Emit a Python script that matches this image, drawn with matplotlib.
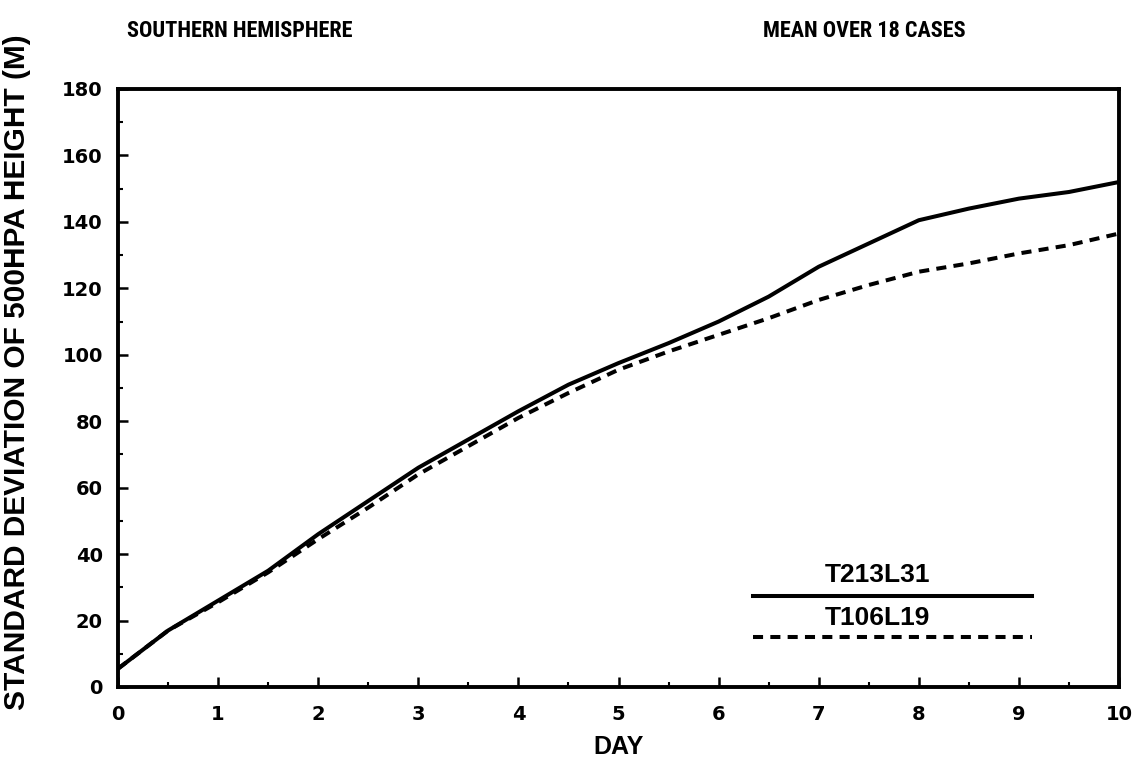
import matplotlib
matplotlib.use("Agg")
import matplotlib.pyplot as plt
from matplotlib import font_manager
from matplotlib.ticker import MultipleLocator

# Forecast day and standard deviation of 500 hPa height (m)
days = [0, 0.5, 1, 1.5, 2, 2.5, 3, 3.5, 4, 4.5, 5, 5.5, 6, 6.5, 7, 7.5, 8, 8.5, 9, 9.5, 10]
t213l31 = [5.5, 17, 26, 35, 46, 56, 66, 74.5, 83, 91, 97.5, 103.5, 110, 117.5, 126.5, 133.5, 140.5, 144, 147, 149, 152]
t106l19 = [5.5, 17, 25.5, 34.5, 44.5, 54, 64, 72.5, 81, 88.5, 95.5, 101, 106, 111, 116.5, 121, 125, 127.5, 130.5, 133, 136.5]

series_names = ["T213L31", "T106L19"]
title_left = "SOUTHERN HEMISPHERE"
title_right = "MEAN OVER 18 CASES"
x_label = "DAY"
y_label = "STANDARD DEVIATION OF 500HPA HEIGHT (M)"

# prefer a condensed face for the header lines when one is installed
installed = {f.name for f in font_manager.fontManager.ttflist}
narrow = [n for n in ("Liberation Sans Narrow", "Roboto Condensed", "Open Sans Condensed",
                      "DejaVu Sans Condensed") if n in installed]
title_family = narrow + ["Liberation Sans"]
title_size = 16 if narrow else 13.5

fig = plt.figure(figsize=(11.41, 7.62), dpi=100)
ax = fig.add_axes([118 / 1141, 1 - 687 / 762, 1001 / 1141, 598 / 762])

lw = 2.9
dash = [2.5, 1.8]
ax.plot(days, t213l31, color="black", lw=lw, solid_capstyle="butt")
ax.plot(days, t106l19, color="black", lw=lw, dashes=dash)

ax.set_xlim(0, 10)
ax.set_ylim(0, 180)
ax.xaxis.set_major_locator(MultipleLocator(1))
ax.xaxis.set_minor_locator(MultipleLocator(0.5))
ax.yaxis.set_major_locator(MultipleLocator(20))
ax.yaxis.set_minor_locator(MultipleLocator(10))

for s in ax.spines.values():
    s.set_linewidth(2.8)
ax.tick_params(which="major", direction="in", length=7, width=1.8,
               top=False, right=False, labelsize=14)
ax.tick_params(axis="x", which="major", pad=13)
ax.tick_params(axis="y", which="major", pad=11)
ax.tick_params(which="minor", direction="in", length=3.5, width=1.5,
               top=False, right=False)
for lab in ax.get_xticklabels() + ax.get_yticklabels():
    lab.set_fontweight("bold")
    lab.set_family("DejaVu Sans")

ax.set_xlabel(x_label, fontsize=18, fontweight="bold", family="Liberation Sans")
ax.xaxis.set_label_coords(0.5, -0.08)
ax.set_ylabel(y_label, fontsize=21.5, fontweight="bold", family="Liberation Sans")
ax.yaxis.set_label_coords(-0.087, 0.527)

# key drawn inside the lower right of the plot
tr = ax.transAxes
ax.plot([0.634, 0.913], [0.152, 0.152], color="black", lw=lw, transform=tr)
ax.plot([0.634, 0.913], [0.084, 0.084], color="black", lw=lw, dashes=dash, transform=tr)
ax.text(0.759, 0.188, series_names[0], transform=tr, ha="center", va="center",
        fontsize=19, fontweight="bold", family="Liberation Sans")
ax.text(0.759, 0.116, series_names[1], transform=tr, ha="center", va="center",
        fontsize=19, fontweight="bold", family="Liberation Sans")

fig.text(240 / 1141, 1 - 31 / 762, title_left, ha="center", va="center",
         fontsize=title_size, fontweight="bold", family=title_family)
fig.text(864 / 1141, 1 - 31 / 762, title_right, ha="center", va="center",
         fontsize=title_size, fontweight="bold", family=title_family)

fig.savefig("out.png", dpi=100, facecolor="white")
